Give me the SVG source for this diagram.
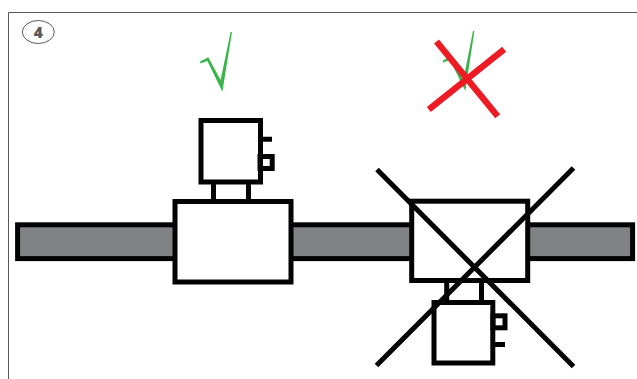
<svg xmlns="http://www.w3.org/2000/svg" width="637" height="379" viewBox="0 0 637 379">
<style>
.k{fill:#fff;stroke:#040304;stroke-width:5}
.n{fill:none;stroke:#040304;stroke-width:5}
.x{stroke:#040304;stroke-width:5;fill:none}
.r{stroke:#ed1c24;stroke-width:6.4;fill:none}
.g{fill:#39b54a}
</style>
<rect width="637" height="379" fill="#fff"/>
<path id="frame" d="M8.5 379V12.5H637" fill="none" stroke="#58595b" stroke-width="1"/>
<g id="badge">
<ellipse cx="38.3" cy="32" rx="16" ry="11.5" fill="#fff" stroke="#58595b" stroke-width="1"/>
<text x="38.3" y="37.6" text-anchor="middle" font-family="'Open Sans',sans-serif" font-weight="800" font-size="15.5" fill="#58595b">4</text>
</g>
<rect id="pipe" x="17.6" y="224.8" width="615" height="33.8" fill="#808285" stroke="#040304" stroke-width="5"/>
<g id="good-meter">
<path class="n" d="M213.5 184V199M248.5 184V199M262 139.3H272"/>
<rect class="k" x="175" y="201.5" width="116" height="80.5"/>
<rect class="k" x="201" y="120.5" width="59.5" height="61.5"/>
<rect class="n" x="260" y="156.5" width="12.2" height="12"/>
</g>
<g id="bad-meter">
<path class="n" d="M446.7 282V300M481.5 282V300M495 344.5H505"/>
<rect class="k" x="411.7" y="201.2" width="116" height="79.3"/>
<rect class="k" x="434" y="302.5" width="58.8" height="60.5"/>
<rect class="n" x="493" y="315.8" width="12" height="12"/>
</g>
<g id="connectors">
<path class="x" d="M377 169.5L573.5 366.5M573.5 168L376.5 365.5"/>
</g>
<polygon id="check-good" class="g" points="200,61.5 208.3,57.2 220.6,80 230.6,32 232,32 222.4,91.7 207.4,61 200.6,63.5"/>
<g id="check-bad">
<polygon class="g" points="442.7,60.5 451,56.5 463.3,80 473,31 474.4,31 465.3,91 450,60 443.3,62.5"/>
<path class="r" d="M436.5 41.5L497.7 116.2M504.2 49.2L428.8 109.5"/>
</g>
</svg>
